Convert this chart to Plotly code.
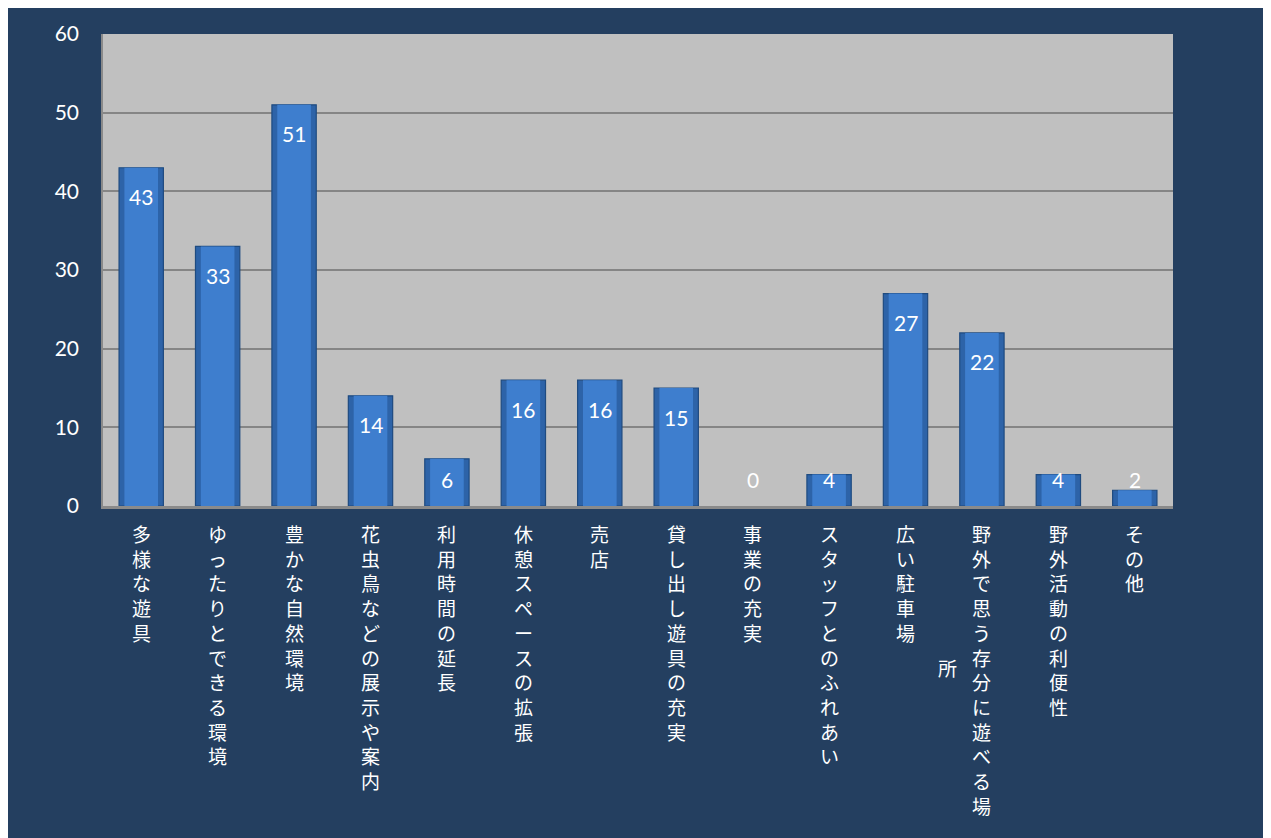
import plotly.graph_objects as go

categories = ["多様な遊具", "ゆったりとできる環境", "豊かな自然環境", "花虫鳥などの展示や案内",
              "利用時間の延長", "休憩スペースの拡張", "売店", "貸し出し遊具の充実",
              "事業の充実", "スタッフとのふれあい", "広い駐車場", "野外で思う存分に遊べる場所",
              "野外活動の利便性", "その他"]
values = [43, 33, 51, 14, 6, 16, 16, 15, 0, 4, 27, 22, 4, 2]
y_ticks = [0, 10, 20, 30, 40, 50, 60]

W, H = 1271, 838
# plot area in figure coordinates (page has 8px body margin)
L, R, T, B = 95, 1165, 24, 498

BG = "#243F60"
PLOT_BG = "#C0C0C0"
BAR_EDGE = "#2D63A8"
BAR_MID = "#3E7ECE"
JP = "Noto Sans CJK JP"
NUM = "Lato"

fig = go.Figure()
fig.add_trace(go.Bar(
    x=categories, y=values, width=0.58,
    marker=dict(color=BAR_EDGE,
                line=dict(color="#1F4B80", width=[1.2 if v > 0 else 0 for v in values])),
    hoverinfo="x+y",
))
fig.add_trace(go.Bar(
    x=categories, y=values, width=0.44,
    marker=dict(color=BAR_MID, line=dict(width=0)),
    hoverinfo="skip",
))

annotations = []
# value labels
for c, v in zip(categories, values):
    annotations.append(dict(
        x=c, y=max(v, 7), xref="x", yref="y", text=str(v), showarrow=False,
        yshift=-29, yanchor="middle", font=dict(family=NUM, size=21, color="white")))

# vertical category labels
FS = 19
STEP = FS * 1.3
MAXC = 12
TOP = 12
for c in categories:
    cols = [c[i:i + MAXC] for i in range(0, len(c), MAXC)]
    n1 = len(cols[0])
    annotations.append(dict(
        x=c, xref="x", yref="paper", y=0, yshift=-TOP, yanchor="top",
        text="<br>".join(cols[0]), showarrow=False, align="center",
        font=dict(family=JP, size=FS, color="white")))
    for ci, col in enumerate(cols[1:], start=1):
        annotations.append(dict(
            x=c, xref="x", yref="paper", y=0, xshift=-34 * ci,
            yshift=-TOP - n1 * STEP / 2 - 1, yanchor="middle",
            text="<br>".join(col), showarrow=False, align="center",
            font=dict(family=JP, size=FS, color="white")))

fig.update_layout(
    width=W, height=H,
    margin=dict(l=L, r=W - R, t=T, b=H - B, pad=0),
    paper_bgcolor=BG,
    plot_bgcolor=PLOT_BG,
    barmode="overlay",
    showlegend=False,
    annotations=annotations,
    xaxis=dict(showticklabels=False, showgrid=False, zeroline=False,
               showline=True, linecolor="#8A8A8A", linewidth=2.5, ticks=""),
    yaxis=dict(range=[0, 60], tickvals=y_ticks, showgrid=True, gridcolor="#858585",
               gridwidth=1.6, zeroline=False, showline=True, linecolor="#8A8A8A",
               linewidth=1.5, ticks="", ticklabelstandoff=18,
               tickfont=dict(family=NUM, size=21, color="white")),
)

fig.write_html("out.html")
